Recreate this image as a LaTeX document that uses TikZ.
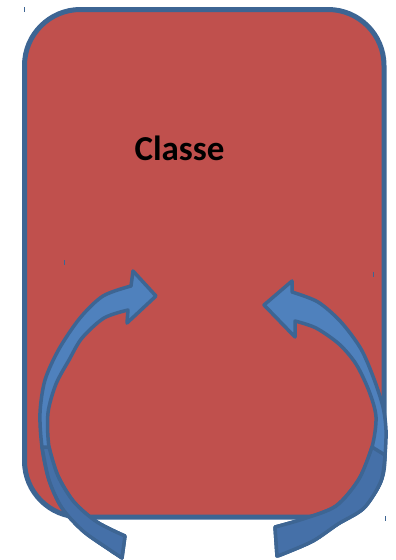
\documentclass[tikz,border=0pt]{standalone}
\usepackage{fontspec}
\setmainfont{Carlito}
\usetikzlibrary{calc}
\definecolor{boxred}{HTML}{C0504D}
\definecolor{boxblue}{HTML}{3D6593}
\definecolor{arrowlight}{HTML}{4F81BD}
\definecolor{arrowdark}{HTML}{4570A8}
\tikzset{
   classbox/.style={
     fill=boxred, draw=boxblue, line width=5pt, rounded corners=56pt
   },
   curvearrow/.style={
      fill=arrowlight, draw=boxblue, line width=3.5pt, line join=round
   },
   arrowback/.style={
      curvearrow,
      fill=arrowdark
   },
   cropmark/.style={draw=boxblue, line width=1pt}
}

\begin{document}
\begin{tikzpicture}[x=1pt,y=-1pt]
            \useasboundingbox (0,0) rectangle (396,560);
            \draw[classbox] (24.5,9.5) rectangle (384,517);
            \node[anchor=base, font=\bfseries\fontsize{35}{42}\selectfont] (title) at (179.5,160) {Classe};

            % left arrow
            \draw[curvearrow] (156,296) -- (133,271) -- (131,286)
               -- plot[smooth] coordinates {(131,286) (103,296) (80,318) (59,349) (45,380) (40,413) (42,447) (49,480) (62,508) (83,531) (107,548) (122,558)}
               -- plot[smooth] coordinates {(125,536) (97,522) (74,502) (58,476) (49,447) (48,413) (56,384) (69,360) (82,338) (104,318) (128,310)}
               -- (127,323) -- cycle;
            \draw[arrowback] plot[smooth] coordinates {(42,447) (49,480) (62,508) (83,531) (107,548) (122,558)}
               -- plot[smooth] coordinates {(125,536) (97,522) (74,502) (58,476) (49,447)} -- cycle;

            % right arrow
            \draw[curvearrow] (264,305) -- (292,281) -- (292,292)
               -- plot[smooth] coordinates {(292,292) (318,302) (341,322) (361,349) (374,379) (383,407) (386,430) (385,455) (381,481) (364,508) (338,524) (313,541) (283,554) (277,556)}
               -- plot[smooth] coordinates {(275,527) (303,519) (336,506) (359,479) (372,447) (376,417) (369,391) (356,364) (339,344) (316,328) (295,321)}
               -- (295,337) -- cycle;
            \draw[arrowback] plot[smooth] coordinates {(385,455) (381,481) (364,508) (338,524) (313,541) (283,554) (277,556)}
               -- plot[smooth] coordinates {(275,527) (303,519) (336,506) (359,479) (372,447)} -- cycle;

            % crop marks
            \foreach \cx/\cy in {24/7, 64/260, 373/272, 385/516}
               \draw[cropmark] (\cx,\cy) -- ++(0,5);
         \end{tikzpicture}
\end{document}
